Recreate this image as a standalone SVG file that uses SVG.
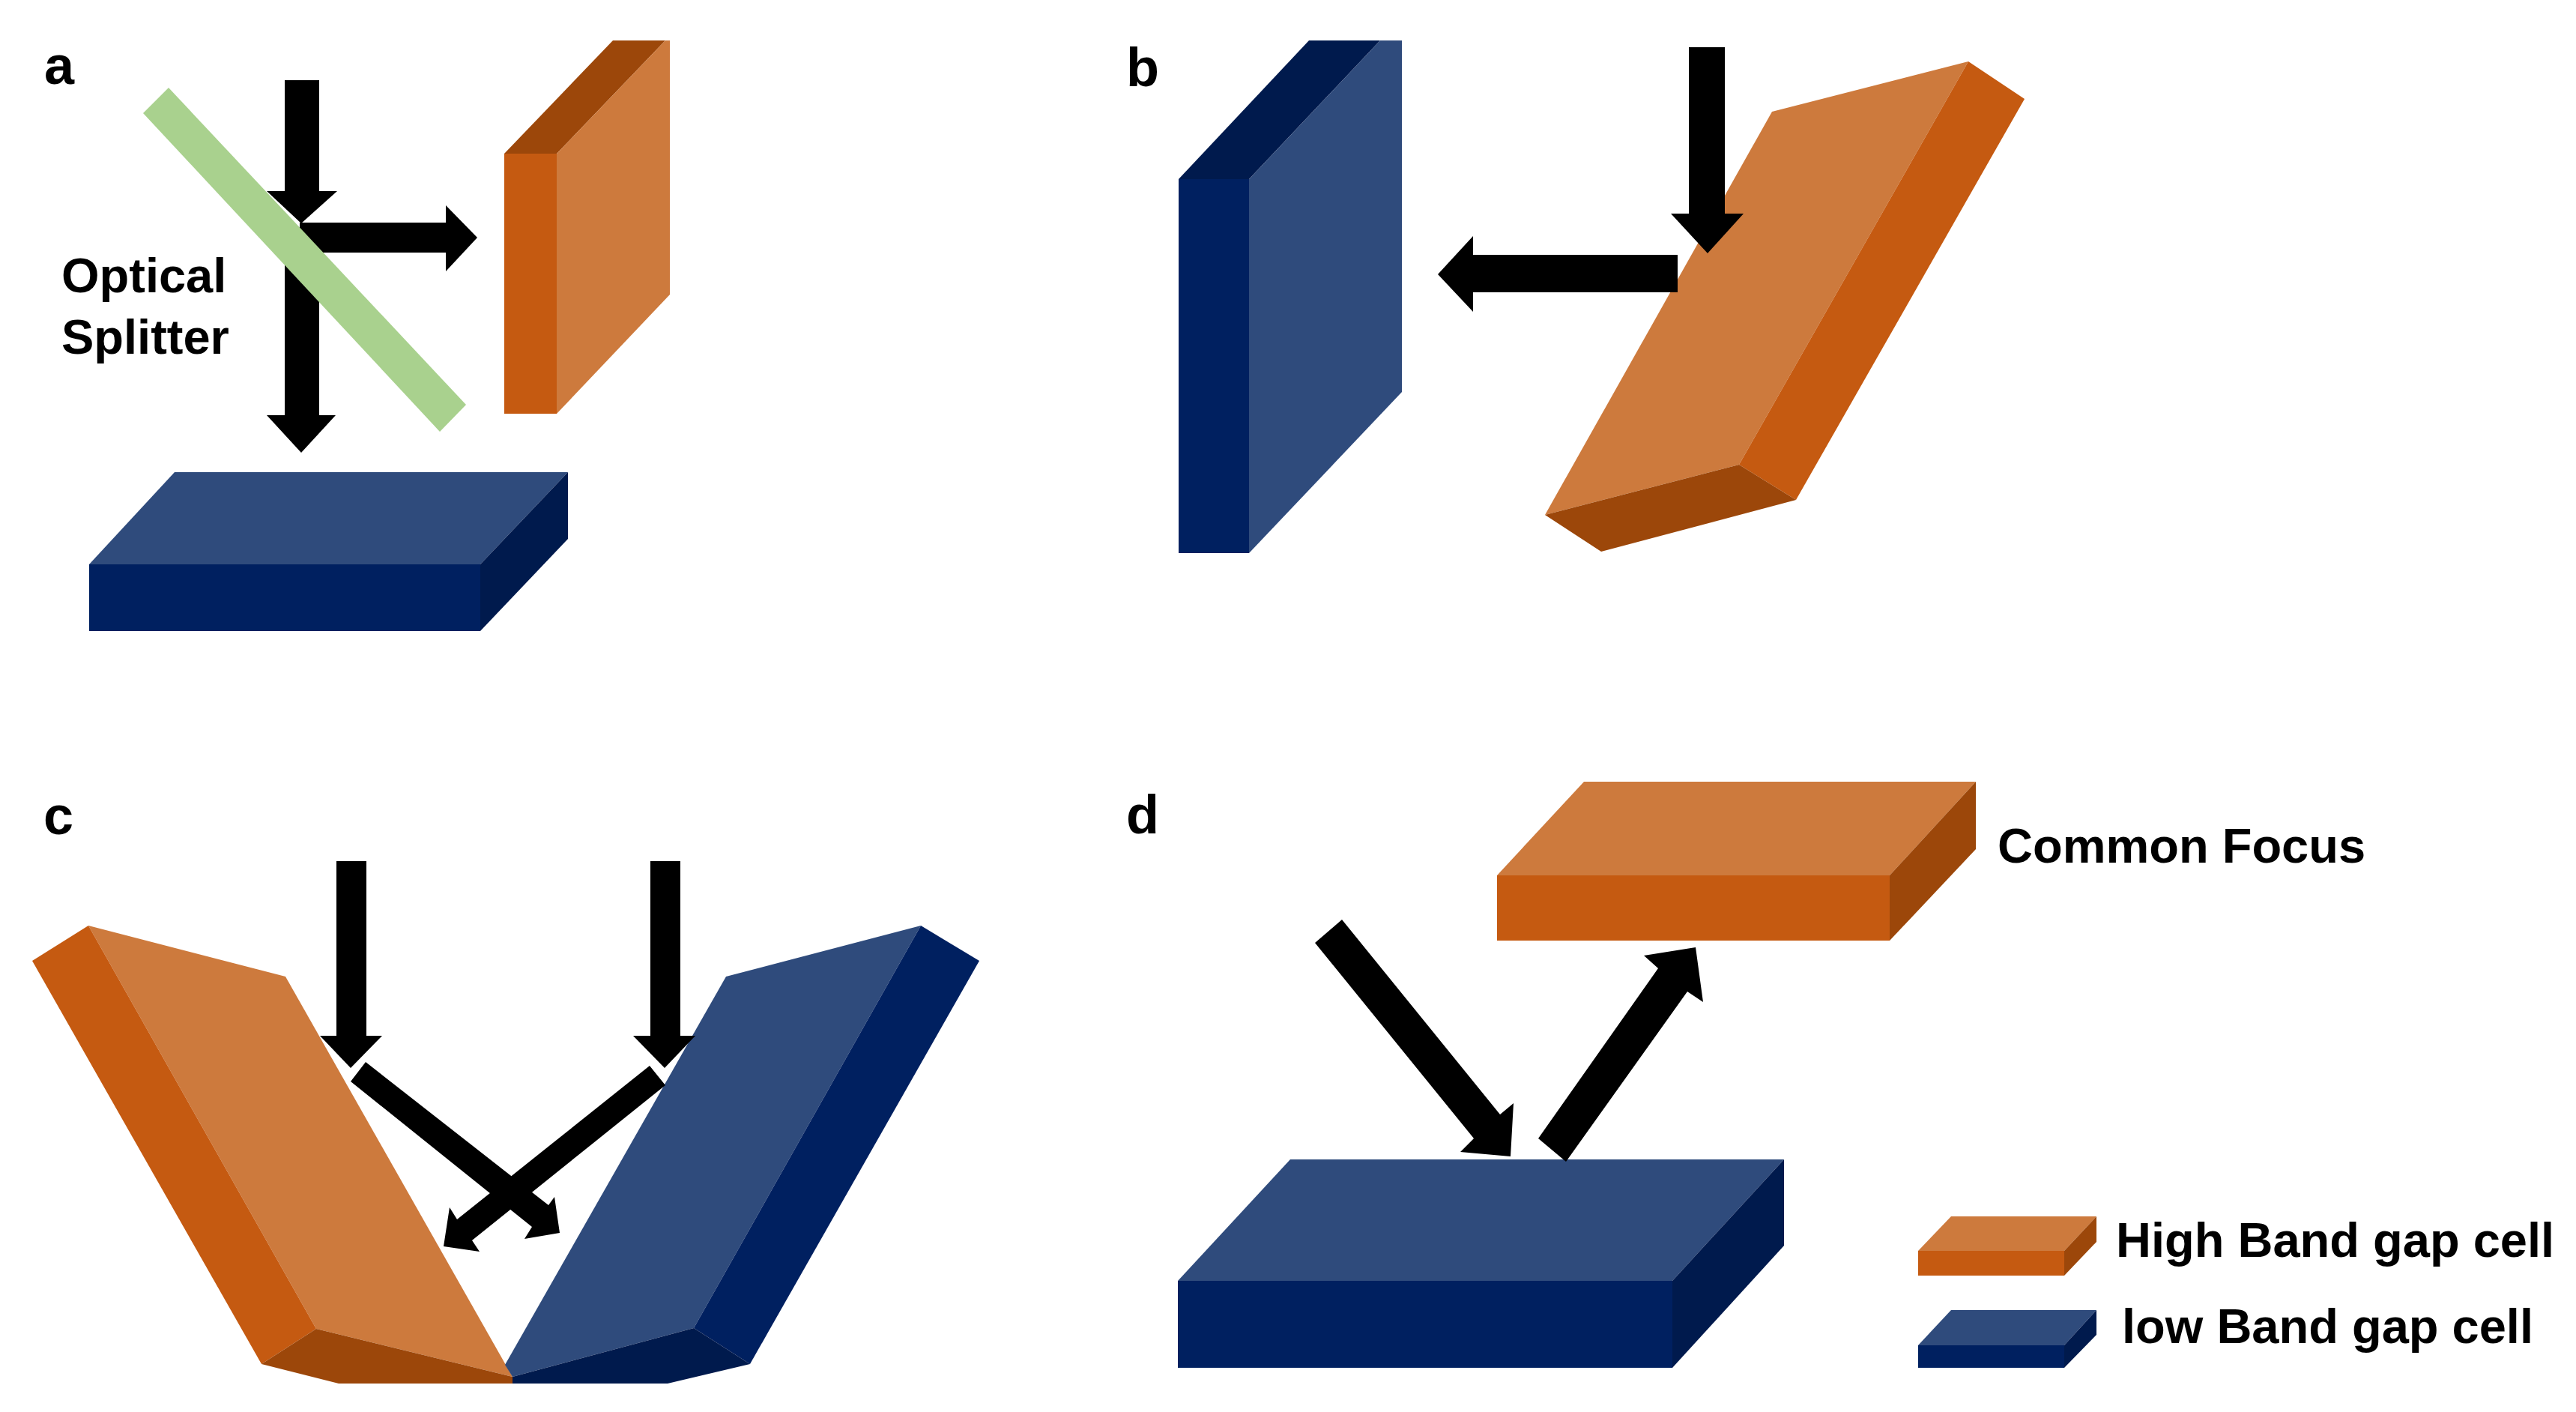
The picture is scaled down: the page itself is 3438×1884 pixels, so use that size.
<svg xmlns="http://www.w3.org/2000/svg" width="3438" height="1884" viewBox="0 0 3438 1884">
<style>
.of{fill:#CD7A3D}.oc{fill:#C55A11}.od{fill:#9C470A}
.bf{fill:#2F4B7C}.bc{fill:#002060}.bd{fill:#001A4D}
.ar{fill:#000}
text{font-family:"Liberation Sans",Arial,sans-serif;font-weight:700;fill:#000;font-size:65px}
.pl{font-size:72px}
</style>
<rect width="3438" height="1884" fill="#fff"/>
<g id="label-a"><text class="pl" x="59" y="112">a</text></g>
<g id="label-b"><text class="pl" x="1503" y="115">b</text></g>
<g id="label-c"><text class="pl" x="58" y="1113">c</text></g>
<g id="label-d"><text class="pl" x="1503" y="1112">d</text></g>

<g id="a-high-cell">
<polygon class="od" points="673,205 818,54 888,54 743,205"/>
<polygon class="oc" points="673,205 743,205 743,552 673,552"/>
<polygon class="of" points="743,205 888,54 894,54 894,393 743,552"/>
</g>
<g id="a-low-cell">
<polygon class="bf" points="119,753 233,630 758,630 641,753"/>
<polygon class="bc" points="119,753 641,753 641,842 119,842"/>
<polygon class="bd" points="641,753 758,630 758,719 641,842"/>
</g>
<g id="a-label"><text x="82" y="390">Optical</text><text x="82" y="472">Splitter</text></g>

<g id="b-low-cell">
<polygon class="bd" points="1573,239 1747,54 1842,54 1667,239"/>
<polygon class="bc" points="1573,239 1667,239 1667,738 1573,738"/>
<polygon class="bf" points="1667,239 1842,54 1871,54 1871,523 1667,738"/>
</g>
<g id="b-high-cell">
<polygon class="of" points="2365,149 2627,82 2321,620 2062,687"/>
<polygon class="oc" points="2627,82 2702,132 2397,667 2321,620"/>
<polygon class="od" points="2062,687 2321,620 2397,667 2137,736"/>
</g>

<g id="c-high-cell">
<polygon class="of" points="118,1235 381,1303 684,1837 422,1773"/>
<polygon class="oc" points="43,1282 118,1235 422,1773 349,1820"/>
<polygon class="od" points="349,1820 422,1773 684,1837 684,1846 452,1846"/>
</g>
<g id="c-low-cell">
<polygon class="bf" points="1229,1235 969,1303 674,1821 684,1837 926,1772"/>
<polygon class="bc" points="1229,1235 1307,1282 1001,1820 926,1772"/>
<polygon class="bd" points="684,1837 926,1772 1001,1820 891,1846 684,1846"/>
</g>

<g id="d-high-cell">
<polygon class="of" points="2114,1043 2637,1043 2522,1168 1998,1168"/>
<polygon class="oc" points="1998,1168 2522,1168 2522,1255 1998,1255"/>
<polygon class="od" points="2522,1168 2637,1043 2637,1133 2522,1255"/>
</g>
<g id="d-low-cell">
<polygon class="bf" points="1722,1547 2381,1547 2232,1709 1572,1709"/>
<polygon class="bc" points="1572,1709 2232,1709 2232,1825 1572,1825"/>
<polygon class="bd" points="2232,1709 2381,1547 2381,1662 2232,1825"/>
</g>
<g id="d-label"><text x="2666" y="1151">Common Focus</text></g>

<g id="legend-high">
<polygon class="of" points="2604,1623 2798,1623 2755,1669 2560,1669"/>
<polygon class="oc" points="2560,1669 2755,1669 2755,1702 2560,1702"/>
<polygon class="od" points="2755,1669 2798,1623 2798,1657 2755,1702"/>
<text x="2824" y="1677">High Band gap cell</text>
</g>
<g id="legend-low">
<polygon class="bf" points="2604,1748 2798,1748 2755,1795 2560,1795"/>
<polygon class="bc" points="2560,1795 2755,1795 2755,1825 2560,1825"/>
<polygon class="bd" points="2755,1795 2798,1748 2798,1781 2755,1825"/>
<text x="2832" y="1792">low Band gap cell</text>
</g>

<g id="connectors" class="ar">
<polygon points="380,107 426,107 426,255 450,255 402,298 356,255 380,255"/>
<polygon points="380,340 426,340 426,554 448,554 402,604 356,554 380,554"/>
<polygon points="400,297 595,297 595,274 637,317 595,362 595,337 400,337"/>
<polygon points="2254,63 2302,63 2302,285 2327,285 2279,338 2230,285 2254,285"/>
<polygon points="2239,340 1966,340 1966,315 1919,366 1966,416 1966,390 2239,390"/>
<polygon points="449,1149 489,1149 489,1382 510,1382 468,1425 427,1382 449,1382"/>
<polygon points="868,1149 908,1149 908,1382 928,1382 887,1425 845,1382 868,1382"/>
<polygon points="488,1417 732,1608 740,1597 747,1645 700,1653 710,1637 468,1443"/>
<polygon points="867,1422 888,1448 630,1655 640,1670 592,1663 600,1611 610,1627"/>
<polygon points="1791,1227 2002,1487 2020,1472 2016,1543 1949,1537 1967,1519 1755,1258"/>
<polygon points="2053,1519 2213,1292 2194,1275 2263,1264 2273,1337 2252,1323 2090,1550"/>
</g>

<g id="a-splitter"><polygon fill="#A9D18E" points="225,117 191,151 587,576 622,540"/></g>
</svg>
